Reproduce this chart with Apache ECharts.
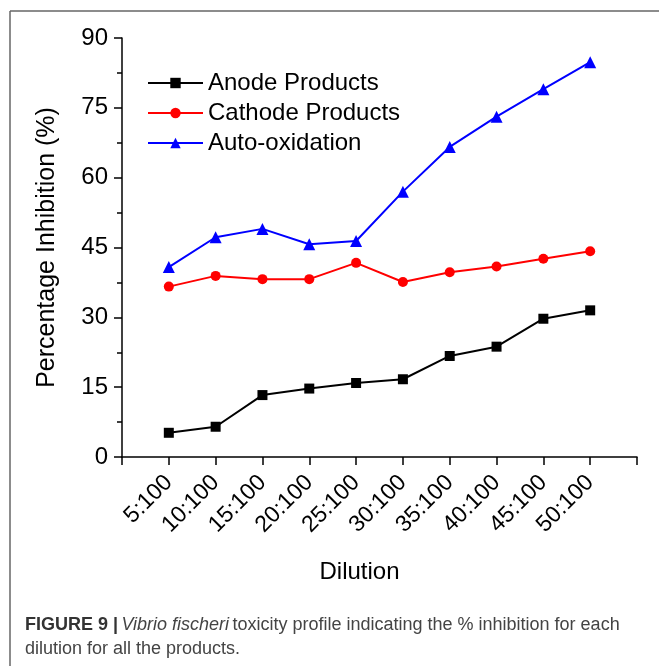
<!DOCTYPE html>
<html>
<head>
<meta charset="utf-8">
<script src="https://cdn.jsdelivr.net/npm/echarts@6/dist/echarts.min.js"></script>
<style>
html,body{margin:0;padding:0;background:#fff;}
#c{width:659px;height:666px;}
</style>
</head>
<body>
<div id="c"></div>
<script>
// Categories (padded with empty slots at both ends of the axis)
const categories = ['', '5:100', '10:100', '15:100', '20:100', '25:100', '30:100', '35:100', '40:100', '45:100', '50:100', ''];
const anode = [null, 5.2, 6.5, 13.3, 14.7, 15.9, 16.7, 21.7, 23.7, 29.7, 31.5, null];
const cathode = [null, 36.6, 38.9, 38.2, 38.2, 41.7, 37.6, 39.7, 40.9, 42.6, 44.2, null];
const autoOx = [null, 40.8, 47.2, 49.0, 45.7, 46.4, 57.0, 66.6, 73.1, 79.0, 84.8, null];
const seriesNames = ['Anode Products', 'Cathode Products', 'Auto-oxidation'];
const yTicks = { min: 0, max: 90, interval: 15 };

const FONT = 'Liberation Sans';
const chart = echarts.init(document.getElementById('c'), null, { renderer: 'canvas' });

function lineSeries(name, data, color, symbol, size) {
  return {
    name: name, type: 'line', data: data, connectNulls: false,
    symbol: symbol, symbolSize: size, showSymbol: true,
    lineStyle: { color: color, width: 2 },
    itemStyle: { color: color },
    emphasis: { disabled: true },
    animation: false
  };
}

chart.setOption({
  animation: false,
  backgroundColor: '#fff',
  grid: { left: 122, top: 38, right: 22, bottom: 209, containLabel: false },
  legend: {
    orient: 'vertical', left: 147, top: 71, padding: 0,
    itemWidth: 55, itemHeight: 13, itemGap: 6,
    textStyle: { fontFamily: FONT, fontSize: 24, color: '#000' },
    data: seriesNames
  },
  xAxis: {
    type: 'category', data: categories, boundaryGap: false,
    name: 'Dilution', nameLocation: 'middle', nameGap: 103,
    nameTextStyle: { fontFamily: FONT, fontSize: 24, color: '#000', padding: [0, 40, 0, 0] },
    axisLine: { lineStyle: { color: '#000', width: 1.5 } },
    axisTick: { show: true, interval: 0, inside: false, length: 8, lineStyle: { color: '#000', width: 1.5 } },
    axisLabel: { interval: 0, rotate: 45, margin: 22, fontFamily: FONT, fontSize: 23, color: '#000' },
    splitLine: { show: false }
  },
  yAxis: {
    type: 'value', min: yTicks.min, max: yTicks.max, interval: yTicks.interval,
    name: 'Percentage Inhibition (%)', nameLocation: 'middle', nameGap: 62,
    nameTextStyle: { fontFamily: FONT, fontSize: 25, color: '#000' },
    axisLine: { show: true, lineStyle: { color: '#000', width: 1.5 } },
    axisTick: { show: true, inside: false, length: 8, lineStyle: { color: '#000', width: 1.5 } },
    minorTick: { show: true, splitNumber: 2, length: 5, lineStyle: { color: '#000', width: 1.5 } },
    axisLabel: { margin: 14, fontFamily: FONT, fontSize: 24, color: '#000' },
    splitLine: { show: false }
  },
  series: [
    lineSeries(seriesNames[0], anode, '#000000', 'rect', 10),
    lineSeries(seriesNames[1], cathode, '#ff0000', 'circle', 10),
    lineSeries(seriesNames[2], autoOx, '#0000ff', 'triangle', 12)
  ],
  graphic: [
    { type: 'line', shape: { x1: 10, y1: 11, x2: 659, y2: 11 }, style: { stroke: '#666', lineWidth: 1.5 } },
    { type: 'line', shape: { x1: 10, y1: 11, x2: 10, y2: 666 }, style: { stroke: '#666', lineWidth: 1.5 } },
    {
      type: 'text', left: 25, top: 613,
      style: {
        text: '{b|FIGURE 9 |} {i|Vibrio fischeri} {n|toxicity profile indicating the % inhibition for each}\n{n|dilution for all the products.}',
        lineHeight: 24,
        rich: {
          b: { fontFamily: FONT, fontSize: 18, fontWeight: 'bold', fill: '#333', lineHeight: 24 },
          i: { fontFamily: FONT, fontSize: 18, fontStyle: 'italic', fill: '#444', lineHeight: 24 },
          n: { fontFamily: FONT, fontSize: 18, fill: '#444', lineHeight: 24 }
        }
      }
    }
  ]
});
</script>
</body>
</html>
